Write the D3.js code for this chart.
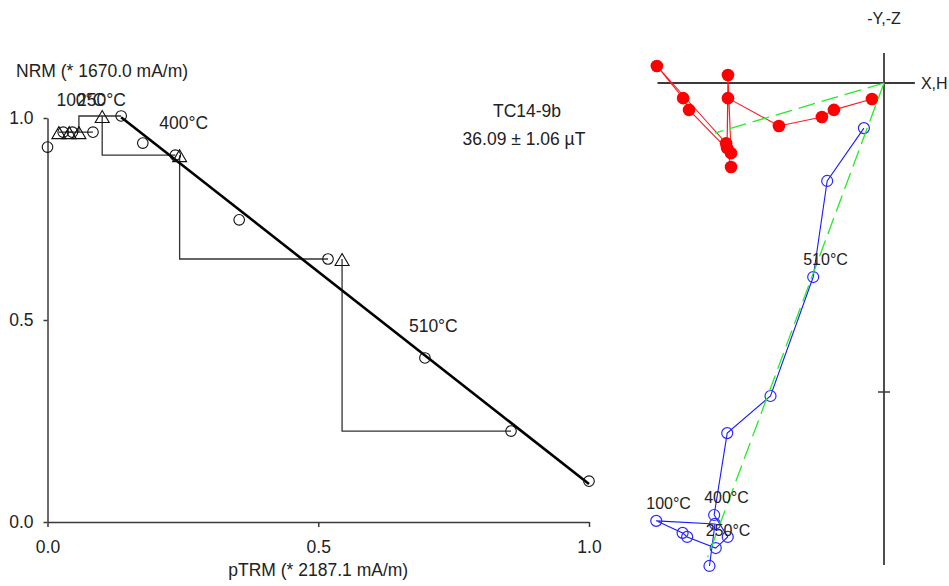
<!DOCTYPE html>
<html>
<head>
<meta charset="utf-8">
<script src="https://cdn.jsdelivr.net/npm/d3@7"></script>
<style>
  html, body { margin: 0; padding: 0; background: #fff; }
  svg text { font-family: "Liberation Sans", Arial, Helvetica, sans-serif; fill: #222; }
</style>
</head>
<body>
<svg id="chart" width="949" height="586"></svg>
<script>
// ---------------- Arai plot (NRM remaining vs pTRM gained, normalised) ----------------
const sampleName = "TC14-9b";
const paleoResult = "36.09 ± 1.06 µT";
const nrmTitle = "NRM (* 1670.0 mA/m)";
const ptrmTitle = "pTRM (* 2187.1 mA/m)";
const araiTicks = [0, 0.5, 1.0];

const araiTemps = [20, 50, 100, 250, 300, 350, 400, 450, 480, 510, 540, 570];
const araiPtrm  = [0.000, 0.029, 0.046, 0.084, 0.136, 0.176, 0.236, 0.354, 0.518, 0.697, 0.856, 1.000];
const araiNrm   = [0.928, 0.965, 0.965, 0.965, 1.005, 0.938, 0.908, 0.748, 0.651, 0.406, 0.225, 0.101];
const araiLabelTemps = [100, 250, 400, 510];

// pTRM checks: index of the step after which the check ran, index of the re-heated step, check pTRM
const checkAfter = [2, 3, 4, 6, 8, 10];
const checkStep  = [1, 2, 3, 4, 6, 8];
const checkPtrm  = [0.021, 0.040, 0.058, 0.101, 0.244, 0.544];

// best-fit line through the selected steps
const fitSlope = -1.0509;
const fitIntercept = 1.1449;
const fitRange = [0.136, 1.0];

// ---------------- Orthogonal (Zijderveld) projection, mA/m ----------------
const zTemps = [20, 50, 100, 150, 200, 250, 300, 400, 450, 480, 510, 540, 570];
const zX = [-495, -511, -735, -650, -631, -495, -505, -508, -505, -340, -201, -162, -39];
const zY = [ 272,  195,  -55,   49,   87,  227,  -26,  210,   49,  139,  110,   87,   52];
const zZ = [1563, 1427, 1417, 1456, 1469, 1505, 1469, 1398, 1133, 1013,  628,  317,  146];
const zLabelTemps = [100, 250, 400, 510];
const zFitEnd = [-547, 162, 1534];        // PCA direction drawn from the origin
const zAxisH = [-733, 100];               // extent of the X,H axis
const zAxisV = [-97, 1560];               // extent of the -Y,-Z axis
const zTick = 1000;

const svg = d3.select("#chart");
const FONT = "Liberation Sans, Arial, sans-serif";
const FS = 17.5;

// ======== Arai plot ========
const ax = d3.scaleLinear().domain([0, 1]).range([47.5, 589]);
const ay = d3.scaleLinear().domain([0, 1]).range([522, 118]);
const arai = svg.append("g");

const xAxis = arai.append("g")
  .attr("transform", `translate(0,${ay(0)})`)
  .call(d3.axisBottom(ax).tickValues(araiTicks).tickFormat(d3.format(".1f"))
        .tickSize(5).tickSizeOuter(0).tickPadding(14));
const yAxis = arai.append("g")
  .attr("transform", `translate(${ax(0)},0)`)
  .call(d3.axisLeft(ay).tickValues(araiTicks).tickFormat(d3.format(".1f"))
        .tickSize(4).tickSizeOuter(0).tickPadding(10));
[xAxis, yAxis].forEach(g => {
  g.attr("font-size", FS).attr("font-family", FONT).attr("color", "#3a3a3a");
  g.selectAll("path, line").attr("stroke-width", 1.5);
  g.selectAll("text").attr("fill", "#222");
});
yAxis.selectAll("text").attr("dy", "0.34em");

arai.append("text").attr("x", 16).attr("y", 77).attr("font-size", FS).text(nrmTitle);
arai.append("text").attr("x", ax(0.5)).attr("y", 576).attr("text-anchor", "middle")
  .attr("font-size", FS).text(ptrmTitle);
arai.append("text").attr("x", 527).attr("y", 117).attr("text-anchor", "middle")
  .attr("font-size", FS).text(sampleName);
arai.append("text").attr("x", 524).attr("y", 145).attr("text-anchor", "middle")
  .attr("font-size", FS).text(paleoResult);

// pTRM check connectors
const checkLine = d3.line().x(d => ax(d[0])).y(d => ay(d[1]));
checkAfter.forEach((a, i) => {
  const s = checkStep[i];
  const pts = [[araiPtrm[a], araiNrm[a]], [checkPtrm[i], araiNrm[a]], [checkPtrm[i], araiNrm[s]]];
  arai.append("path").attr("d", checkLine(pts))
    .attr("fill", "none").attr("stroke", "#333").attr("stroke-width", 1.3);
});

// best-fit line
arai.append("line")
  .attr("x1", ax(fitRange[0])).attr("y1", ay(fitIntercept + fitSlope * fitRange[0]))
  .attr("x2", ax(fitRange[1])).attr("y2", ay(fitIntercept + fitSlope * fitRange[1]))
  .attr("stroke", "#000").attr("stroke-width", 2.6);

// NRM-pTRM points
arai.selectAll("circle.step").data(araiPtrm).join("circle")
  .attr("class", "step")
  .attr("cx", d => ax(d)).attr("cy", (d, i) => ay(araiNrm[i])).attr("r", 5.3)
  .attr("fill", "none").attr("stroke", "#111").attr("stroke-width", 1.1);

// pTRM check triangles
arai.selectAll("path.check").data(checkPtrm).join("path")
  .attr("class", "check")
  .attr("transform", (d, i) => `translate(${ax(d)},${ay(araiNrm[checkStep[i]])})`)
  .attr("d", "M0,-5.5L7,6.5L-7,6.5Z")
  .attr("fill", "none").attr("stroke", "#111").attr("stroke-width", 1.1);

// temperature labels
araiLabelTemps.forEach(t => {
  const i = araiTemps.indexOf(t);
  arai.append("text").attr("x", ax(araiPtrm[i]) - 16).attr("y", ay(araiNrm[i]) - 26)
    .attr("font-size", FS).text(`${t}°C`);
});

// ======== Zijderveld diagram ========
const zx = d3.scaleLinear().domain([-1000, 0]).range([575, 884]);
const zy = d3.scaleLinear().domain([0, 1000]).range([83, 392]);
const zH = zX.map((x, i) => Math.sign(x) * Math.hypot(x, zY[i]));
const zij = svg.append("g");

zij.append("line").attr("x1", zx(zAxisH[0])).attr("x2", zx(zAxisH[1]))
  .attr("y1", zy(0)).attr("y2", zy(0)).attr("stroke", "#3a3a3a").attr("stroke-width", 1.8);
zij.append("line").attr("x1", zx(0)).attr("x2", zx(0))
  .attr("y1", zy(zAxisV[0])).attr("y2", zy(zAxisV[1])).attr("stroke", "#3a3a3a").attr("stroke-width", 1.8);
zij.append("line").attr("x1", zx(0) - 6).attr("x2", zx(0) + 6)
  .attr("y1", zy(zTick)).attr("y2", zy(zTick)).attr("stroke", "#3a3a3a").attr("stroke-width", 1.5);
zij.append("text").attr("x", zx(0)).attr("y", 24).attr("text-anchor", "middle")
  .attr("font-size", 16).text("-Y,-Z");
zij.append("text").attr("x", zx(zAxisH[1]) + 6).attr("y", zy(0) + 6)
  .attr("font-size", 16).text("X,H");

const pathLine = d3.line();
// horizontal projection (X, Y)
const horiz = zX.map((x, i) => [zx(x), zy(zY[i])]);
zij.append("path").attr("d", pathLine(horiz)).attr("fill", "none")
  .attr("stroke", "#ff1a1a").attr("stroke-width", 1.1);
zij.selectAll("circle.h").data(horiz).join("circle").attr("class", "h")
  .attr("cx", d => d[0]).attr("cy", d => d[1]).attr("r", 6.3).attr("fill", "#ff0000");

// vertical projection (H, Z)
const vert = zH.map((h, i) => [zx(h), zy(zZ[i])]);
zij.append("path").attr("d", pathLine(vert)).attr("fill", "none")
  .attr("stroke", "#1a1aff").attr("stroke-width", 1.1);
zij.selectAll("circle.v").data(vert).join("circle").attr("class", "v")
  .attr("cx", d => d[0]).attr("cy", d => d[1]).attr("r", 5.5)
  .attr("fill", "none").attr("stroke", "#2a2aff").attr("stroke-width", 1.2);

// principal-component fit, both projections
const fitH = Math.sign(zFitEnd[0]) * Math.hypot(zFitEnd[0], zFitEnd[1]);
[[zFitEnd[0], zFitEnd[1]], [fitH, zFitEnd[2]]].forEach(([h, v]) => {
  zij.append("line").attr("x1", zx(0)).attr("y1", zy(0))
    .attr("x2", zx(h)).attr("y2", zy(v))
    .attr("stroke", "#22ee22").attr("stroke-width", 1.3).attr("stroke-dasharray", "17,7");
});

// temperature labels on the vertical projection
zLabelTemps.forEach(t => {
  const i = zTemps.indexOf(t);
  zij.append("text").attr("x", vert[i][0] - 10).attr("y", vert[i][1] - 12)
    .attr("font-size", 16).text(`${t}°C`);
});
</script>
</body>
</html>
